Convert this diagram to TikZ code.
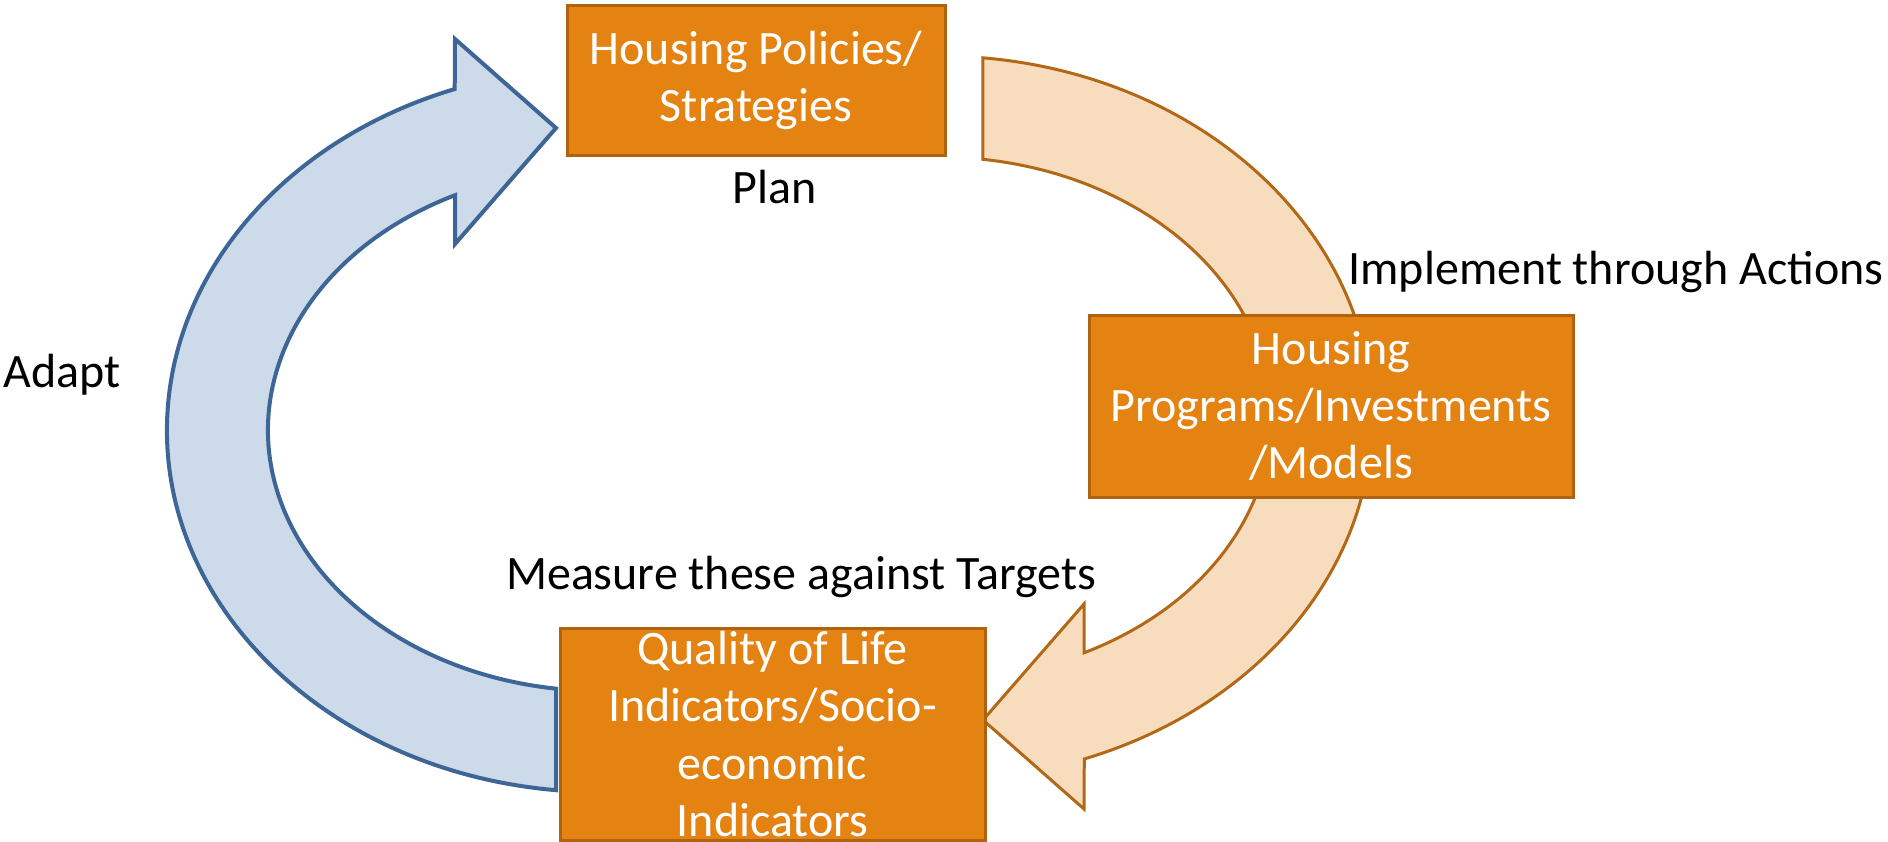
\documentclass[tikz,border=0pt]{standalone}
\usepackage{fontspec}
\setmainfont{Carlito}

\tikzset{every picture/.style={line width=0.75pt}}
\tikzset{
stage box/.style={draw={rgb, 255:red, 176; green, 99; blue, 14 }, fill={rgb, 255:red, 228; green, 131; blue, 18 }, line width=2.25pt, text=white, align=center, inner sep=0pt, font=\fontsize{36}{43}\selectfont},
cycle label/.style={inner sep=0.75pt, align=left, font=\fontsize{36}{43}\selectfont},
adapt arrow/.style={draw={rgb, 255:red, 61; green, 101; blue, 150 }, fill={rgb, 255:red, 205; green, 218; blue, 234 }, line width=3pt, line join=miter},
act arrow/.style={draw={rgb, 255:red, 178; green, 104; blue, 22 }, fill={rgb, 255:red, 248; green, 220; blue, 190 }, line width=2.25pt, line join=miter}}

\begin{document}
\begin{tikzpicture}[x=0.75pt,y=0.75pt,yscale=-1,xscale=1]
\useasboundingbox (0,0) rectangle (1888,842);

%Shape: Circular Arrow [id:adapt] 
\draw [adapt arrow] (556.2,790.2) arc [start angle=95.8, end angle=250.4, x radius=433, y radius=362] -- (455,39) -- (556,128) -- (455,244) -- (455,195.2) arc [start angle=244.1, end angle=97.6, x radius=332, y radius=261] -- cycle ;
%Shape: Circular Arrow [id:implement] 
\draw [act arrow] (982.8,57.8) arc [start angle=275.8, end angle=430.4, x radius=433, y radius=362] -- (1084,809) -- (983,720) -- (1084,604) -- (1084,652.8) arc [start angle=424.1, end angle=277.6, x radius=332, y radius=261] -- cycle ;

%Shape: Rectangle [id:policies] 
\node [stage box, minimum width=283.5pt, minimum height=111.75pt] (policies) at (756,80.5) {Housing Policies/\\Strategies};
%Shape: Rectangle [id:programs] 
\node [stage box, minimum width=363pt, minimum height=136.5pt] (programs) at (1331,406) {Housing\\Programs/Investments\\/Models};
%Shape: Rectangle [id:indicators] 
\node [stage box, minimum width=318.75pt, minimum height=159pt] (indicators) at (772.5,734) {Quality of Life\\Indicators/Socio-\\economic\\Indicators};

% Text Node
\node [cycle label] (plan) at (775,187) {Plan};
% Text Node
\node [cycle label, anchor=west] (adapt) at (2,375) {Adapt};
% Text Node
\node [cycle label, anchor=east] (implement) at (1885,272) {Implement through Actions};
% Text Node
\node [cycle label] (measure) at (801,577) {Measure these against Targets};

\end{tikzpicture}
\end{document}
